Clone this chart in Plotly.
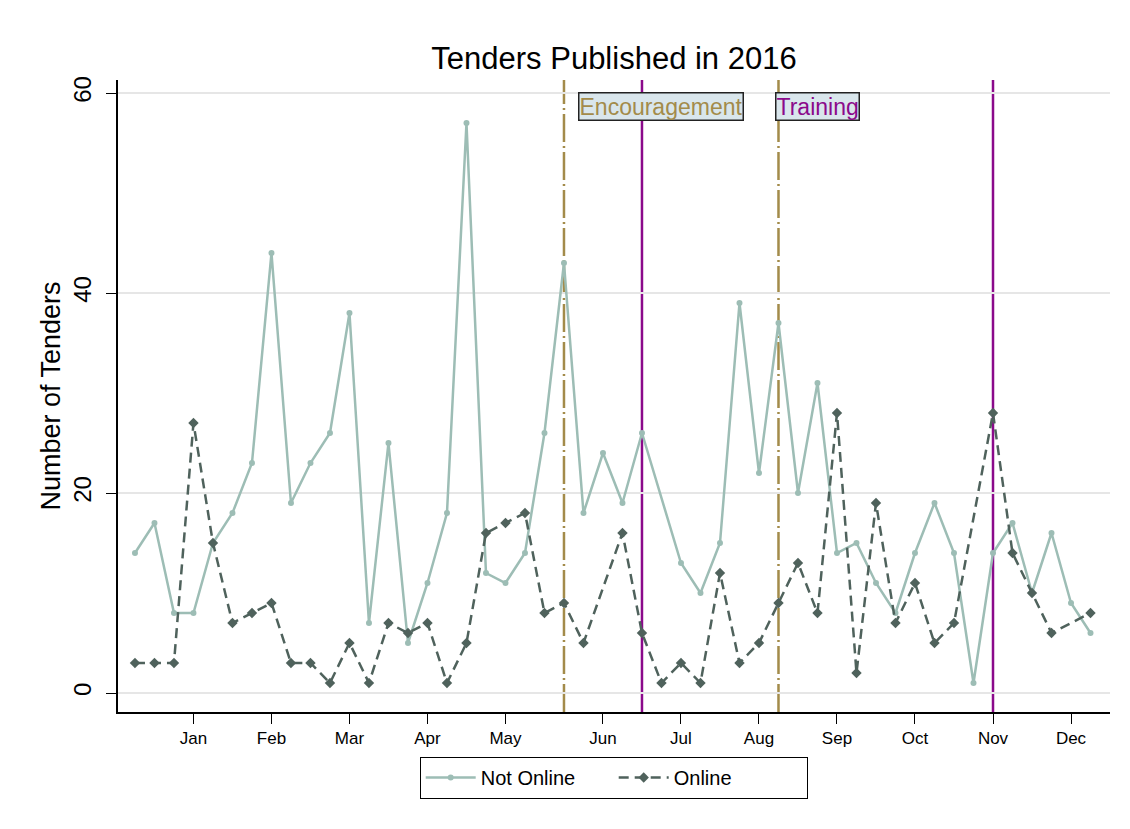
import plotly.graph_objects as go

# ---- data ----
weeks = list(range(50))
not_online = [14, 17, 8, 8, 15, 18, 23, 44, 19, 23, 26, 38, 7, 25, 5, 11, 18, 57, 12, 11,
              14, 26, 43, 18, 24, 19, 26, None, 13, 10, 15, 39, 22, 37, 20, 31, 14, 15, 11, 8,
              14, 19, 14, 1, 14, 17, 10, 16, 9, 6]
online = [3, 3, 3, 27, 15, 7, 8, 9, 3, 3, 1, 5, 1, 7, 6, 7, 1, 5, 16, 17,
          18, 8, 9, 5, None, 16, 6, 1, 3, 1, 12, 3, 5, 9, 13, 8, 28, 2, 19, 7,
          11, 5, 7, None, 28, 14, 10, 6, None, 8]
month_ticks = [3, 7, 11, 15, 19, 24, 28, 32, 36, 40, 44, 48]
month_labels = ["Jan", "Feb", "Mar", "Apr", "May", "Jun", "Jul", "Aug", "Sep", "Oct", "Nov", "Dec"]
encouragement_weeks = [22, 33]
training_weeks = [26, 44]
label_text = ["Encouragement", "Training"]
label_x = [27.0, 35.0]
label_y = [58.65, 58.65]

GOLD = "#a38b4a"
PURPLE = "#8b0a8b"
FONT = "Liberation Sans, Arial, sans-serif"

fig = go.Figure()
fig.add_trace(go.Scatter(
    x=weeks, y=not_online, name="Not Online", mode="lines+markers",
    connectgaps=True,
    line=dict(color="#9dbdb5", width=2.5),
    marker=dict(symbol="circle", size=6, color="#9dbdb5"),
))
fig.add_trace(go.Scatter(
    x=weeks, y=online, name="Online", mode="lines+markers",
    connectgaps=True,
    line=dict(color="#4f625c", width=2.5, dash="10px,6px"),
    marker=dict(symbol="diamond", size=8, color="#4f625c"),
))

shapes = []
for w in encouragement_weeks:
    shapes.append(dict(type="line", xref="x", yref="paper", x0=w, x1=w, y0=0, y1=1,
                       line=dict(color=GOLD, width=2.5, dash="28px,4px,2px,4px"), layer="below"))
for w in training_weeks:
    shapes.append(dict(type="line", xref="x", yref="paper", x0=w, x1=w, y0=0, y1=1,
                       line=dict(color=PURPLE, width=2.5), layer="below"))
fig.update_layout(shapes=shapes)

colors = [GOLD, PURPLE]
for t, xx, yy, c in zip(label_text, label_x, label_y, colors):
    fig.add_annotation(x=xx, y=yy, xref="x", yref="y", text=t, showarrow=False,
                       font=dict(family=FONT, size=23, color=c),
                       bgcolor="#d9e6ec", bordercolor="#222222", borderwidth=1.5, borderpad=0)

fig.update_layout(
    width=1130, height=829,
    paper_bgcolor="white", plot_bgcolor="white",
    margin=dict(l=110, r=28, t=72, b=125, autoexpand=False),
    font=dict(family=FONT, color="black"),
    title=dict(text="Tenders Published in 2016", x=(110 + 496) / 1130, xanchor="center",
               xref="container", y=1 - 50 / 829, yanchor="middle",
               font=dict(family=FONT, size=31, color="black")),
    showlegend=True,
    legend=dict(orientation="h", x=0.5, xanchor="center", y=-0.071, yanchor="top",
                bordercolor="black", borderwidth=1.2, bgcolor="white",
                font=dict(family=FONT, size=20), entrywidth=128, itemwidth=50),
)
fig.update_xaxes(
    range=[-0.87, 50.0], tickmode="array", tickvals=month_ticks, ticktext=month_labels,
    showgrid=False, zeroline=False, showline=True, linecolor="black", linewidth=1.5,
    ticks="outside", ticklen=10, tickwidth=1.2, tickcolor="black",
    tickfont=dict(family=FONT, size=17, color="black"),
)
fig.update_yaxes(
    range=[-1.9, 61.3], tickmode="array", tickvals=[0, 20, 40, 60],
    showgrid=True, gridcolor="#e6e6e6", gridwidth=2, zeroline=False,
    showline=True, linecolor="black", linewidth=1.5,
    ticks="outside", ticklen=10, tickwidth=1.2, tickcolor="black", tickangle=-90,
    ticklabelstandoff=6,
    tickfont=dict(family=FONT, size=24, color="black"),
    title=dict(text="Number of Tenders", font=dict(family=FONT, size=27, color="black"), standoff=0),
)

fig.write_html("out.html")
